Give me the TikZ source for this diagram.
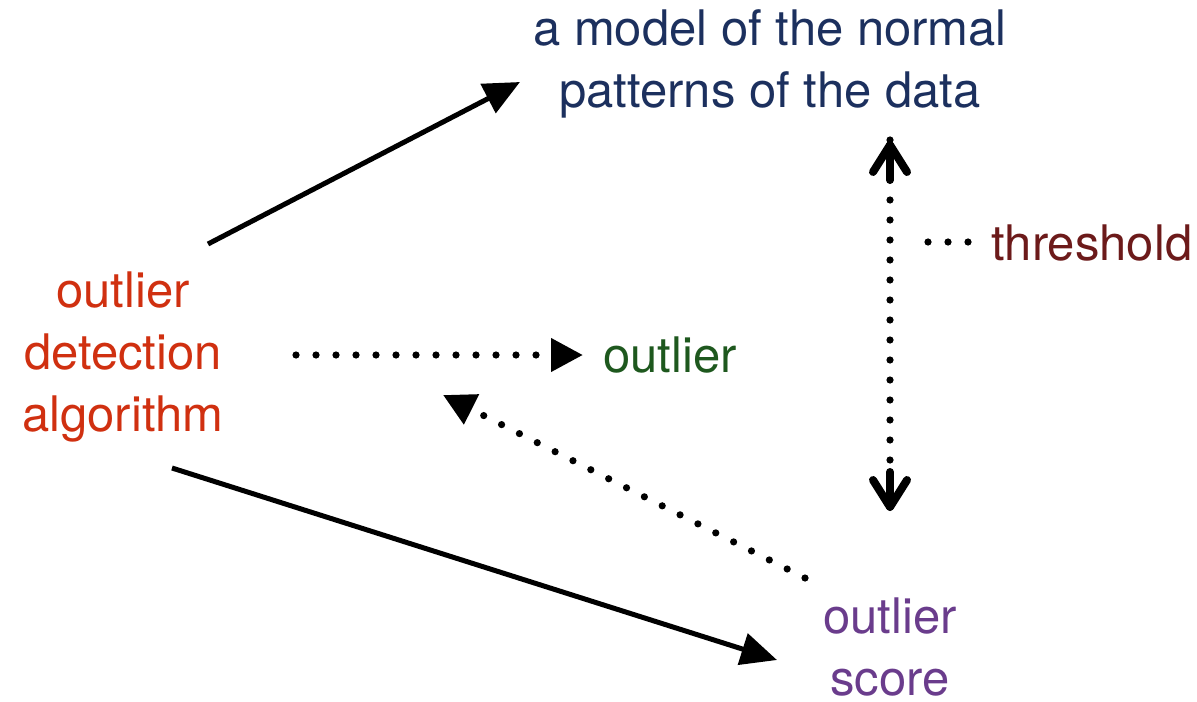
\documentclass[tikz,border=0pt]{standalone}
\usepackage{fontspec}
\setmainfont{TeX Gyre Heros}
\usetikzlibrary{arrows.meta}
\definecolor{navy}{RGB}{28,48,94}
\definecolor{redo}{RGB}{208,48,16}
\definecolor{greenl}{RGB}{30,88,30}
\definecolor{purp}{RGB}{106,60,140}
\definecolor{dred}{RGB}{108,26,26}
\tikzset{
  lbl/.style={font=\fontsize{24.5}{31}\selectfont, align=center, inner sep=0pt},
  solidarrow/.style={line width=2.5pt, -{Triangle[length=18pt,width=16pt]}},
  dotline/.style={line width=3.6pt, line cap=round, dash pattern=on 0pt off 10pt},
  dotarrow/.style={dotline, -{Triangle[length=16pt,width=16pt]}},
  barb/.style={line width=4pt, line cap=round, line join=round},
}
\begin{document}
\begin{tikzpicture}[x=0.5pt,y=-0.5pt]
\useasboundingbox (0,0) rectangle (1197,701);
\node[lbl, text=navy] (model) at (770,64) {a model of the normal\\patterns of the data};
\node[lbl, text=redo] (algo) at (123,357) {outlier\\detection\\algorithm};
\node[lbl, text=greenl, anchor=west] (out) at (603,355) {outlier};
\node[lbl, text=dred, anchor=west] (thr) at (991,243) {threshold};
\node[lbl, text=purp] (score) at (890,647) {outlier\\score};
% coordinates
\coordinate (a1) at (208,244);
\coordinate (m1) at (520,82);
\coordinate (a2) at (172,468);
\coordinate (s1) at (777,660);
\coordinate (a3) at (296,355);
\coordinate (o1) at (583,355);
\coordinate (s2) at (805,578);
\coordinate (a4) at (443,395);
\coordinate (t1) at (890,140);
\coordinate (t2) at (890,512);
\coordinate (th1) at (928,242);
\coordinate (th2) at (983,242);
\draw[solidarrow] (a1) -- (m1);
\draw[solidarrow] (a2) -- (s1);
\draw[dotarrow] (a3) -- (o1);
\draw[dotarrow] (s2) -- (a4);
\draw[dotline] (t1) -- (t2);
\draw[barb] (873,172) -- (890,145) -- (907,172);
\draw[barb] (890,145) -- (890,180);
\draw[barb] (873,480) -- (890,507) -- (907,480);
\draw[barb] (890,507) -- (890,472);
\draw[dotline] (th1) -- (th2);
\end{tikzpicture}
\end{document}
